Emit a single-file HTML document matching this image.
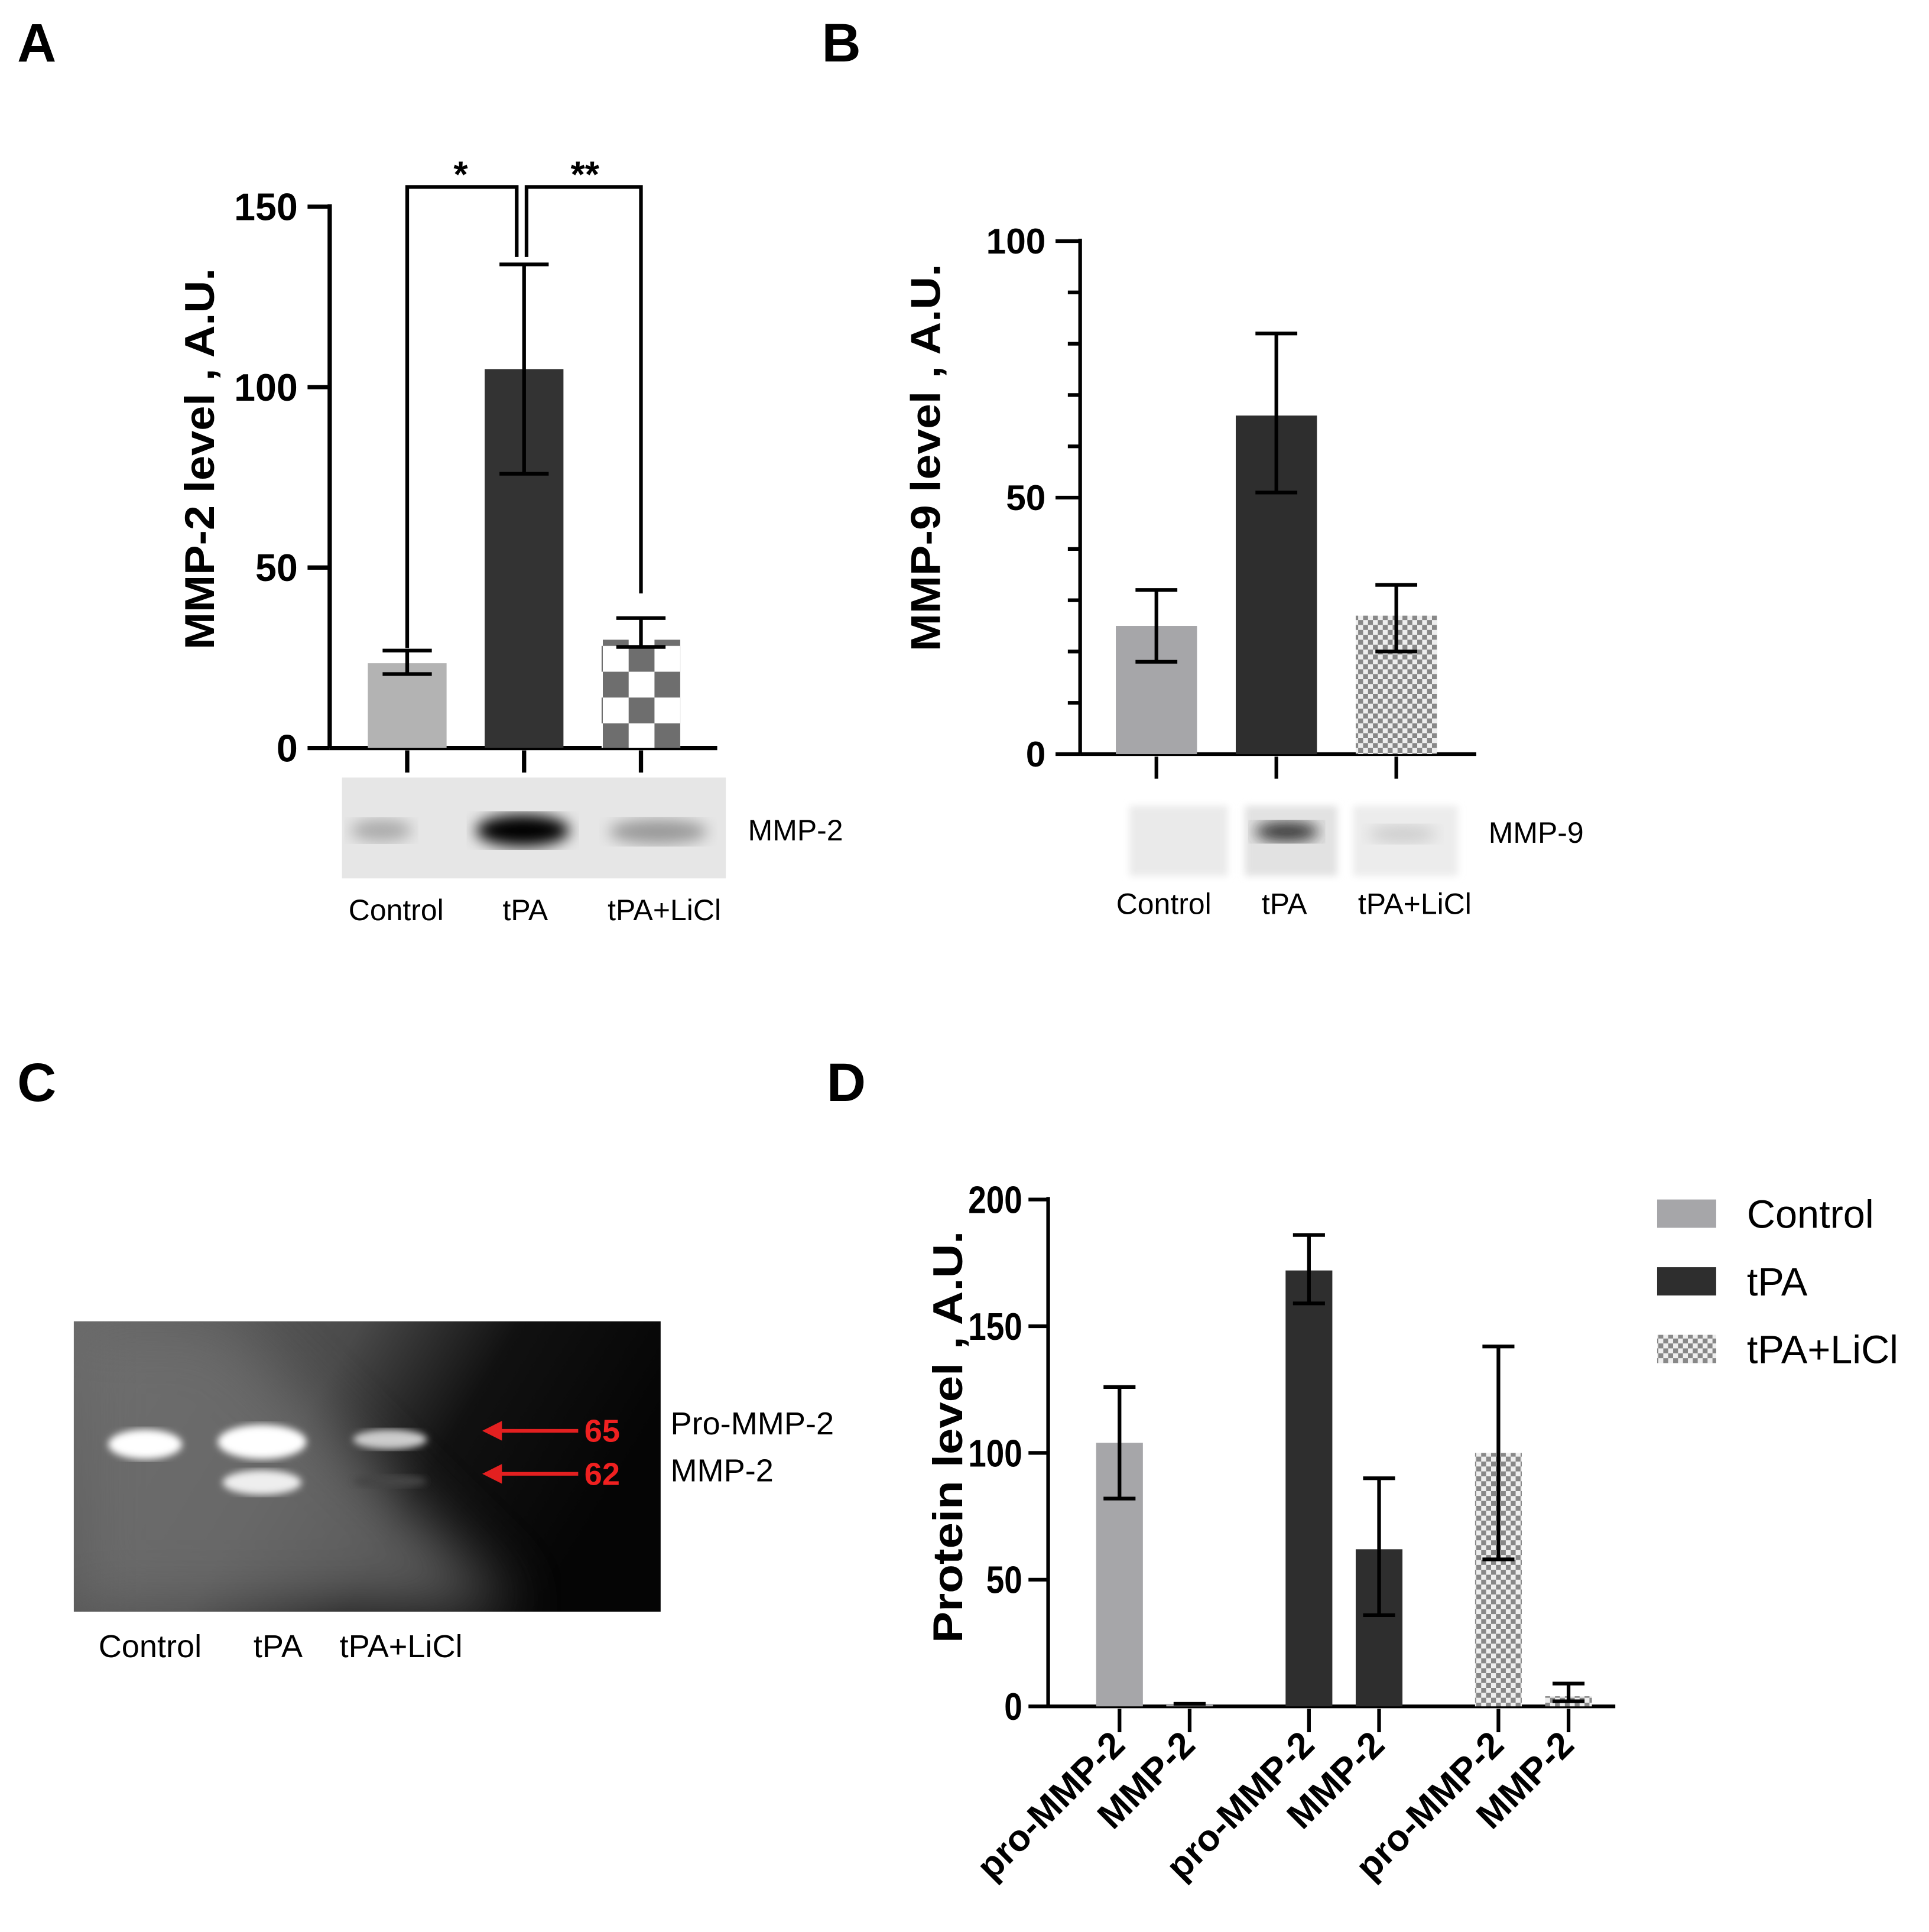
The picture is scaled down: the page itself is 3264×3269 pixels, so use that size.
<!DOCTYPE html>
<html><head><meta charset="utf-8">
<style>
html,body{margin:0;padding:0;background:#fff;}
svg{display:block;}
text{font-family:"Liberation Sans",sans-serif;}
</style></head>
<body>
<svg id="fig" xmlns="http://www.w3.org/2000/svg" width="3264" height="3269" viewBox="0 0 1568 1570.4">
<defs>
<pattern id="chkA" patternUnits="userSpaceOnUse" width="42" height="42" x="490" y="0">
<rect width="42" height="42" fill="#fff"/><rect width="21" height="21" fill="#6e6e6e"/><rect x="21" y="21" width="21" height="21" fill="#6e6e6e"/>
</pattern>
<pattern id="chkS" patternUnits="userSpaceOnUse" width="8" height="8">
<rect width="8" height="8" fill="#eee"/><rect width="4" height="4" fill="#888"/><rect x="4" y="4" width="4" height="4" fill="#888"/>
</pattern>
<filter id="blur6"><feGaussianBlur stdDeviation="6"/></filter>
<filter id="blur3"><feGaussianBlur stdDeviation="3"/></filter>
<filter id="blur20"><feGaussianBlur stdDeviation="25"/></filter>
<linearGradient id="gelbg" x1="0" y1="0" x2="1" y2="0.3">
<stop offset="0" stop-color="#6a6a6a"/><stop offset="0.45" stop-color="#4a4a4a"/><stop offset="0.7" stop-color="#111"/><stop offset="1" stop-color="#050505"/>
</linearGradient>
</defs>
<g id="root"></g>
</svg>
<script>
// ===== Panel A data =====
const catsA = ["Control","tPA","tPA+LiCl"];
const valsA = [23.5, 105, 30];
const loA = [20.5, 76, 28];
const hiA = [27, 134, 36];
const ticksA = [0,50,100,150];
// ===== Panel B data =====
const catsB = ["Control","tPA","tPA+LiCl"];
const valsB = [25, 66, 27];
const loB = [18, 51, 20];
const hiB = [32, 82, 33];
const ticksB = [0,50,100];
// ===== Panel D data =====
const catsD = ["pro-MMP-2","MMP-2","pro-MMP-2","MMP-2","pro-MMP-2","MMP-2"];
const groupD = [0,0,1,1,2,2];
const valsD = [104, 1, 172, 62, 100, 4];
const loD = [82, 1, 159, 36, 58, 2];
const hiD = [126, 1, 186, 90, 142, 9];
const ticksD = [0,50,100,150,200];
const legendD = ["Control","tPA","tPA+LiCl"];

const NS="http://www.w3.org/2000/svg";
const root=document.getElementById('root');
function el(tag,attrs,parent,txt){const e=document.createElementNS(NS,tag);for(const k in attrs)e.setAttribute(k,attrs[k]);if(txt!==undefined)e.textContent=txt;(parent||root).appendChild(e);return e;}
function line(x1,y1,x2,y2,w,p){return el('line',{x1,y1,x2,y2,stroke:'#000','stroke-width':w||3},p);}

// ---- Panel letters
[["A",14,50],["B",668,50],["C",14,895],["D",672,895]].forEach(([t,x,y])=>{
  const e=el('text',{x,y,'font-size':44,'font-weight':'bold'},root,t);
  
  
});

// ---- Panel A
const gA=el('g',{});

const yA=v=>608-(v/150)*440;
const xA=i=>331+i*95;
const fillsA=['#b3b3b3','#333333','url(#chkA)'];
line(268,608,583,608,3.5,gA);line(268,166,268,608,3.5,gA);
ticksA.forEach(t=>{line(250,yA(t),268,yA(t),3.5,gA);
  const e=el('text',{x:242,y:yA(t)+11,'font-size':31,'font-weight':'bold','text-anchor':'end'},gA,t);
  });
catsA.forEach((c,i)=>{
  const r=el('rect',{x:xA(i)-32,y:yA(valsA[i]),width:64,height:yA(0)-yA(valsA[i]),fill:fillsA[i]},gA);
  
  line(xA(i),yA(loA[i]),xA(i),yA(hiA[i]),3,gA);
  line(xA(i)-20,yA(loA[i]),xA(i)+20,yA(loA[i]),3,gA);
  line(xA(i)-20,yA(hiA[i]),xA(i)+20,yA(hiA[i]),3,gA);
  line(xA(i),610,xA(i),628,3.5,gA);
});
const sA=el('g',{},gA);
el('polyline',{points:`${xA(0)},${yA(hiA[0])-2} ${xA(0)},152 ${xA(1)-6},152 ${xA(1)-6},${yA(hiA[1])-6}`,fill:'none',stroke:'#000','stroke-width':3},sA);
el('polyline',{points:`${xA(1)+2},${yA(hiA[1])-6} ${xA(1)+2},152 ${xA(2)},152 ${xA(2)},${yA(hiA[2])-20}`,fill:'none',stroke:'#000','stroke-width':3},sA);
el('text',{x:(xA(0)+xA(1))/2-4,y:152,'font-size':30,'font-weight':'bold','text-anchor':'middle'},sA,'*');
el('text',{x:(xA(1)+xA(2))/2+2,y:152,'font-size':30,'font-weight':'bold','text-anchor':'middle'},sA,'**');
const tA=el('text',{x:0,y:0,'font-size':34,'font-weight':'bold','text-anchor':'middle',textLength:310,lengthAdjust:'spacingAndGlyphs',transform:'translate(174,373) rotate(-90)'},gA,'MMP-2 level , A.U.');

const bA=el('g',{},gA);
el('rect',{x:278,y:632,width:312,height:82,fill:'#e6e6e6'},bA);
el('ellipse',{cx:310,cy:675,rx:25,ry:9,fill:'#aaa',filter:'url(#blur6)'},bA);
el('ellipse',{cx:425,cy:675,rx:38,ry:13,fill:'#000',filter:'url(#blur6)'},bA);
el('ellipse',{cx:535,cy:676,rx:40,ry:10,fill:'#999',filter:'url(#blur6)'},bA);
el('text',{x:608,y:683,'font-size':24},bA,'MMP-2');
[322,427,540].forEach((x,i)=>el('text',{x,y:748,'font-size':24,'text-anchor':'middle'},bA,catsA[i]));

// ---- Panel B
const gB=el('g',{});

const yB=v=>613-(v/100)*417;
const xB=i=>940+i*97.5;
const fillsB=['#a6a6a9','#2e2e2e','url(#chkS)'];
line(878,613,1200,613,3,gB);line(878,194,878,613,3,gB);
for(let v=0;v<=100;v+=10){const major=v%50===0;line(major?858:868,yB(v),878,yB(v),3,gB);}
ticksB.forEach(t=>{const e=el('text',{x:850,y:yB(t)+10,'font-size':29,'font-weight':'bold','text-anchor':'end'},gB,t);
  });
catsB.forEach((c,i)=>{
  const r=el('rect',{x:xB(i)-33,y:yB(valsB[i]),width:66,height:yB(0)-yB(valsB[i]),fill:fillsB[i]},gB);
  
  line(xB(i),yB(loB[i]),xB(i),yB(hiB[i]),3,gB);
  line(xB(i)-17,yB(loB[i]),xB(i)+17,yB(loB[i]),3,gB);
  line(xB(i)-17,yB(hiB[i]),xB(i)+17,yB(hiB[i]),3,gB);
  line(xB(i),615,xB(i),633,3,gB);
});
const tB=el('text',{x:0,y:0,'font-size':34,'font-weight':'bold','text-anchor':'middle',textLength:315,lengthAdjust:'spacingAndGlyphs',transform:'translate(764,372) rotate(-90)'},gB,'MMP-9 level , A.U.');

const bB=el('g',{},gB);
el('rect',{x:918,y:655,width:80,height:57,fill:'#eaeaea',filter:'url(#blur3)'},bB);
el('rect',{x:1012,y:655,width:75,height:57,fill:'#e2e2e2',filter:'url(#blur3)'},bB);
el('rect',{x:1100,y:655,width:85,height:57,fill:'#ececec',filter:'url(#blur3)'},bB);
el('ellipse',{cx:1046,cy:676,rx:26,ry:8,fill:'#333',filter:'url(#blur6)'},bB);
el('ellipse',{cx:1140,cy:678,rx:28,ry:7,fill:'#ccc',filter:'url(#blur6)'},bB);
el('text',{x:1210,y:685,'font-size':24},bB,'MMP-9');
[946,1044,1150].forEach((x,i)=>el('text',{x,y:743,'font-size':24,'text-anchor':'middle'},bB,catsB[i]));

// ---- Panel C
const gC=el('g',{});

el('rect',{x:60,y:1074,width:477,height:236,fill:'url(#gelbg)'},gC);
const cl=el('clipPath',{id:'gclip'},gC);el('rect',{x:60,y:1074,width:477,height:236},cl);
const gi=el('g',{'clip-path':'url(#gclip)'},gC);
el('polygon',{points:'60,1074 180,1074 420,1310 60,1310',fill:'#707070',filter:'url(#blur20)',opacity:0.8},gi);
el('ellipse',{cx:118,cy:1174,rx:30,ry:12,fill:'#fff',filter:'url(#blur3)'},gi);
el('ellipse',{cx:213,cy:1172,rx:36,ry:14,fill:'#fff',filter:'url(#blur3)'},gi);
el('ellipse',{cx:213,cy:1205,rx:32,ry:10,fill:'#eee',filter:'url(#blur3)'},gi);
el('ellipse',{cx:317,cy:1170,rx:30,ry:8,fill:'#ccc',filter:'url(#blur3)'},gi);
el('ellipse',{cx:317,cy:1204,rx:30,ry:5,fill:'#444',filter:'url(#blur3)'},gi);
[[1163,'65'],[1198,'62']].forEach(([y,t])=>{
  line(405,y,470,y,3,gi).setAttribute('stroke','#e32020');
  el('polygon',{points:`392,${y} 408,${y-8} 408,${y+8}`,fill:'#e32020'},gi);
  el('text',{x:475,y:y+9,'font-size':26,'font-weight':'bold',fill:'#f02020'},gi,t);
});
el('text',{x:545,y:1166,'font-size':26},gC,'Pro-MMP-2');
el('text',{x:545,y:1204,'font-size':26},gC,'MMP-2');
[[122,'Control'],[226,'tPA'],[326,'tPA+LiCl']].forEach(([x,t])=>el('text',{x,y:1347,'font-size':26,'text-anchor':'middle'},gC,t));

// ---- Panel D
const gD=el('g',{});

const yD=v=>1387-(v/200)*412;
const xD=i=>910+Math.floor(i/2)*154+(i%2)*57;
const fillsD=['#a6a6a9','#2e2e2e','url(#chkS)'];
line(852,1387,1313,1387,3,gD);line(852,973,852,1387,3,gD);
ticksD.forEach(t=>{line(836,yD(t),852,yD(t),3,gD);
  const e=el('text',{x:(831/0.85).toFixed(1),y:yD(t)+11,'font-size':31,'font-weight':'bold','text-anchor':'end',transform:'scale(0.85,1)'},gD,t);
  });
catsD.forEach((c,i)=>{
  const g=groupD[i];
  const r=el('rect',{x:xD(i)-19,y:yD(valsD[i]),width:38,height:Math.max(1,yD(0)-yD(valsD[i])),fill:fillsD[g]},gD);
  
  line(xD(i),yD(loD[i]),xD(i),yD(hiD[i]),3,gD);
  line(xD(i)-13,yD(loD[i]),xD(i)+13,yD(loD[i]),3,gD);
  line(xD(i)-13,yD(hiD[i]),xD(i)+13,yD(hiD[i]),3,gD);
  line(xD(i),1389,xD(i),1408,3,gD);
  const lt=el('text',{x:0,y:0,'font-size':30,'font-weight':'bold','text-anchor':'end',transform:`translate(${xD(i)+6},${1420}) rotate(-45)`},gD,c);
  
});
const tD=el('text',{x:0,y:0,'font-size':34,'font-weight':'bold','text-anchor':'middle',textLength:335,lengthAdjust:'spacingAndGlyphs',transform:'translate(782,1168) rotate(-90)'},gD,'Protein level  , A.U.');

legendD.forEach((t,i)=>{
  const lg=el('g',{},gD);
  
  const y=975+i*55;
  el('rect',{x:1347,y,width:48,height:23,fill:fillsD[i]},lg);
  el('text',{x:1420,y:y+23,'font-size':32},lg,t);
});
</script>
</body></html>
